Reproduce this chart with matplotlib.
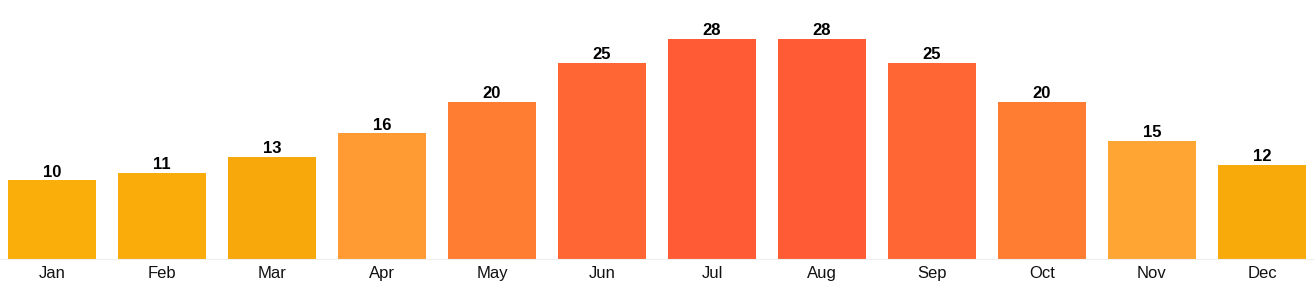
import matplotlib.pyplot as plt

months = ["Jan", "Feb", "Mar", "Apr", "May", "Jun",
          "Jul", "Aug", "Sep", "Oct", "Nov", "Dec"]
temps = [10, 11, 13, 16, 20, 25, 28, 28, 25, 20, 15, 12]
colors = ["#F9AE09", "#F9AC0A", "#F8A80B", "#FF9B32", "#FF7D33", "#FF6633",
          "#FF5C35", "#FF5C35", "#FF6633", "#FF7D33", "#FFA533", "#F8AA0B"]

plt.rcParams['font.family'] = ['Liberation Sans', 'DejaVu Sans']

fig = plt.figure(figsize=(13.14, 2.86), dpi=100)
ax = fig.add_axes([0, 27 / 286, 1, 239 / 286])

x = list(range(len(months)))
bars = ax.bar(x, temps, width=0.8, color=colors)

for b, v in zip(bars, temps):
    ax.text(b.get_x() + b.get_width() / 2, v + 0.1, str(v),
            ha='center', va='bottom', fontsize=12, fontweight='bold', color='black')

ax.set_xlim(-52 / 110, 11 + 52 / 110)
ax.set_ylim(0, 28 * 239 / 220)
ax.set_xticks(x)
ax.set_xticklabels(months, fontsize=12, color='#111111')
ax.tick_params(axis='x', length=0, pad=5)
ax.set_yticks([])
for s in ['top', 'right', 'left']:
    ax.spines[s].set_visible(False)
ax.spines['bottom'].set_color('#eeeeee')
ax.spines['bottom'].set_linewidth(0.8)

fig.savefig("out.png", dpi=100)
